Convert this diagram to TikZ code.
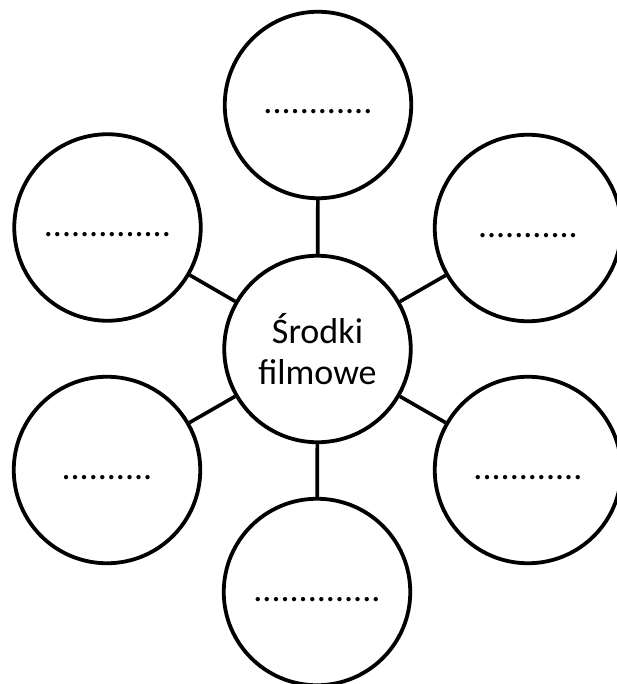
\documentclass[tikz,border=0pt]{standalone}
\usepackage{fontspec}
\setmainfont{Carlito}
\begin{document}
\begin{tikzpicture}[x=1pt,y=-1pt,
  bubble/.style={circle,draw=black,line width=3.8pt,minimum size=186.5pt,inner sep=0pt,
    font=\fontsize{36}{41}\selectfont,text height=28pt,text depth=10pt},
  hub/.style={circle,draw=black,line width=3.8pt,minimum size=186.5pt,inner sep=0pt,
    align=center,font=\fontsize{36}{41}\selectfont},
  link/.style={draw=black,line width=3.6pt}]
\useasboundingbox (0,0) rectangle (617,684);
\node[hub] (c) at (317.5,349) {Środki\\filmowe};
\node[bubble] (t) at (318,105) {............};
\node[bubble] (tl) at (107.5,227.5) {..............};
\node[bubble] (tr) at (528,228) {...........};
\node[bubble] (bl) at (107,470) {..........};
\node[bubble] (br) at (528,470) {............};
\node[bubble] (b) at (317,592) {..............};
\draw[link] (c) -- (t);
\draw[link] (c) -- (tl);
\draw[link] (c) -- (tr);
\draw[link] (c) -- (bl);
\draw[link] (c) -- (br);
\draw[link] (c) -- (b);
\end{tikzpicture}
\end{document}
